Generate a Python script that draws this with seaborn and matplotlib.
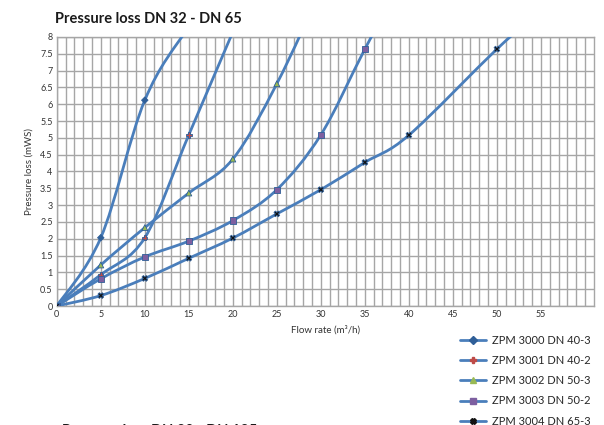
import numpy as np
import pandas as pd
import matplotlib
matplotlib.use('Agg')
import matplotlib.pyplot as plt
import seaborn as sns
from matplotlib.path import Path
from matplotlib.patches import PathPatch
from matplotlib.lines import Line2D

# data (last point of each series lies above the axis and gets clipped)
flow_3000 = [0, 5, 10, 15, 20]
loss_3000 = [0, 2.03, 6.12, 8.3, 10.0]
flow_3001 = [0, 5, 10, 15, 20]
loss_3001 = [0, 0.93, 2.03, 5.09, 8.15]
flow_3002 = [0, 5, 10, 15, 20, 25, 30]
loss_3002 = [0, 1.22, 2.33, 3.36, 4.37, 6.61, 9.4]
flow_3003 = [0, 5, 10, 15, 20, 25, 30, 35, 40]
loss_3003 = [0, 0.81, 1.46, 1.93, 2.54, 3.46, 5.09, 7.64, 10.1]
flow_3004 = [0, 5, 10, 15, 20, 25, 30, 35, 40, 50, 55]
loss_3004 = [0, 0.31, 0.82, 1.42, 2.02, 2.74, 3.46, 4.27, 5.08, 7.64, 8.8]

series_names = ['ZPM 3000 DN 40-3', 'ZPM 3001 DN 40-2', 'ZPM 3002 DN 50-3',
                'ZPM 3003 DN 50-2', 'ZPM 3004 DN 65-3']
flows = [flow_3000, flow_3001, flow_3002, flow_3003, flow_3004]
losses = [loss_3000, loss_3001, loss_3002, loss_3003, loss_3004]

x_ticks = list(range(0, 60, 5))
y_ticks = [0, 0.5, 1, 1.5, 2, 2.5, 3, 3.5, 4, 4.5, 5, 5.5, 6, 6.5, 7, 7.5, 8]

line_color = '#4a7ebb'
marker_colors = ['#2f5f98', '#be4b48', '#98b954', '#7d5fa0', '#111111']
markers = ['D', 'P', '^', 's', 'X']
marker_sizes = [11, 15, 18, 20, 17]

rows = []
for name, fx, ly in zip(series_names, flows, losses):
    for a, b in zip(fx, ly):
        rows.append({'series': name, 'flow': a, 'loss': b})
df = pd.DataFrame(rows)

sns.set_style('white')
plt.rcParams['font.family'] = ['Lato', 'DejaVu Sans']

fig = plt.figure(figsize=(6.04, 4.25), dpi=100)
ax = fig.add_axes([0.094, 0.28, 0.889, 0.633])


# Excel-style smoothed line: cubic bezier through the points
def smooth_path(xs, ys):
    pts = np.column_stack([xs, ys]).astype(float)
    verts = [pts[0]]
    codes = [Path.MOVETO]
    n = len(pts)
    for i in range(n - 1):
        p0 = pts[i - 1] if i > 0 else pts[i]
        p1, p2 = pts[i], pts[i + 1]
        p3 = pts[i + 2] if i + 2 < n else pts[i + 1]
        c1 = p1 + (p2 - p0) / 6
        c2 = p2 - (p3 - p1) / 6
        verts += [c1, c2, p2]
        codes += [Path.CURVE4] * 3
    return Path(verts, codes)


for fx, ly in zip(flows, losses):
    patch = PathPatch(smooth_path(fx, ly), facecolor='none', edgecolor=line_color,
                      lw=2, zorder=3, capstyle='round')
    ax.add_patch(patch)

sns.scatterplot(data=df, x='flow', y='loss', hue='series', style='series',
                palette=marker_colors, markers=markers, size='series',
                sizes=dict(zip(series_names, marker_sizes)),
                edgecolor=None, linewidth=0.6, legend=False, zorder=4, ax=ax)
for coll, c in zip(ax.collections, marker_colors):
    coll.set_edgecolor(c)

ax.set_xlim(0, 61)
ax.set_ylim(0, 8)
ax.set_xticks(x_ticks)
ax.set_xticks(np.arange(0, 61, 1), minor=True)
ax.set_yticks(y_ticks)
ax.set_yticklabels([f'{v:g}' for v in y_ticks])
ax.grid(True, which='both', axis='x', color='#a6a6a6', lw=1, zorder=0)
ax.grid(True, which='major', axis='y', color='#a6a6a6', lw=1, zorder=0)
ax.set_axisbelow(True)
for s in ax.spines.values():
    s.set_color('#a6a6a6')
    s.set_linewidth(1)
ax.tick_params(axis='both', which='both', length=0, labelsize=6.5, colors='#333333', pad=3)

ax.set_xlabel('Flow rate (m³/h)', fontsize=7, color='#333333', labelpad=4)
ax.set_ylabel('Pressure loss (mWS)', fontsize=7, color='#333333', labelpad=5)

fig.text(0.091, 0.956, 'Pressure loss DN 32 - DN 65', fontsize=10.5, fontweight='bold',
         va='center', ha='left', color='#1a1a1a')

handles = [Line2D([0], [0], color=line_color, lw=2, marker=m, markersize=4,
                  markerfacecolor=c, markeredgecolor=c)
           for m, c in zip(markers, marker_colors)]
fig.legend(handles, series_names, loc='upper left', bbox_to_anchor=(0.755, 0.222),
           frameon=False, fontsize=8, handlelength=2.3, handletextpad=0.5,
           labelspacing=0.82, borderaxespad=0)

# start of the next chart's title, cut off by the lower edge as in the source
fig.text(0.102, -0.013, 'Pressure loss DN 80 - DN 125', fontsize=10.5, fontweight='bold',
         va='center', ha='left', color='#1a1a1a')

fig.savefig('out.png', dpi=100)
